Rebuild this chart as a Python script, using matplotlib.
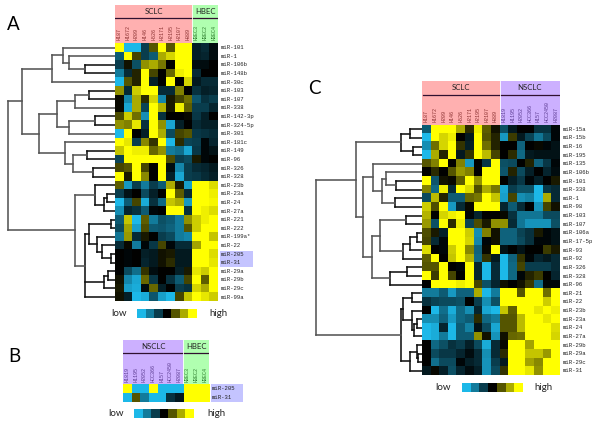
import matplotlib
matplotlib.use('Agg')
import matplotlib.pyplot as plt
from matplotlib.colors import LinearSegmentedColormap
from matplotlib.patches import Rectangle
import numpy as np

# Panel A
rows_a = ['miR-101', 'miR-1', 'miR-106b', 'miR-148b', 'miR-30c', 'miR-103', 'miR-107', 'miR-338',
          'miR-142-3p', 'miR-324-5p', 'miR-301', 'miR-181c', 'miR-149', 'miR-96', 'miR-326', 'miR-328',
          'miR-23b', 'miR-23a', 'miR-24', 'miR-27a', 'miR-221', 'miR-222', 'miR-199a*', 'miR-22',
          'miR-205', 'miR-31', 'miR-29a', 'miR-29b', 'miR-29c', 'miR-99a']
samples_a = ['H187', 'H1672', 'H209', 'H146', 'H526', 'H2171', 'H2195', 'H2107', 'H889', 'HBEC3', 'HBEC2', 'HBEC4']
values_a = [
    [3, -3, -3, -1, 1, 3, 1, 3, 3, -0.5, -0.7, -0.2],
    [-1.5, 3, 0.8, -1, -1.5, 2, 2.5, 3, 3, -0.5, -0.6, -0.2],
    [-1, 0.2, -1.3, 1.7, 2, 1.4, 0, 3, 3, -0.2, -0.2, 0],
    [-2, -0.7, 0.4, 3, 0.8, 0, 1.2, 2.8, 3, -0.7, 0, 0],
    [-3, 1, 0.4, 3, -0.5, 0, 3, 0, 2.5, -0.4, -0.7, -0.7],
    [1.7, -0.7, 2.4, 3, 3, -0.7, -0.7, 1.5, 0, -0.8, -0.5, -0.6],
    [0.1, -2.2, 2, 0.5, 2.5, -2.2, 0.3, 0.8, 1.3, -1.4, -0.8, -1],
    [0.1, -2.7, 2, -1.1, 3, 2.1, 0.3, 2.8, 1.1, -1, -1, -0.6],
    [0.9, 2.4, 1.3, -2.3, 3, -0.8, 0, 0, 0.1, -0.9, -0.5, 0],
    [1.7, 1.5, 2.7, -0.8, 3, 1.7, -2.7, -0.5, 0, -0.7, -0.5, -0.5],
    [-3, 3, 0, -0.5, 3, 2, -1.2, 0.8, 1, -0.9, -0.8, -0.7],
    [3, 2.7, -1, 1.6, 0.6, 3, -3, 0.5, -1.1, -1, -0.1, -0.6],
    [2.3, 3, 2.8, 2.8, 1.2, 1.7, -2, -1.8, -2.7, -0.9, -0.1, -0.3],
    [-1.1, 3, 3, 3, 3, 3, 0.9, -1, -1.2, 0.3, -0.1, 0],
    [0.8, 1, 3, 0.8, 0, 3, -0.2, -2.2, -1, -0.7, -0.6, -0.4],
    [3, 0.3, 3, 1.6, 0, 3, -0.5, -2.7, -1, -0.9, -0.7, -0.5],
    [1.1, -2.5, -1, -2, -1, -1.5, 2, 0.3, -2.6, 3, 3, 2.6],
    [-1, -0.3, 0, -1.2, -0.5, 0, 3, 1.1, -0.7, 3, 3, 2.8],
    [-3, -1.5, 0.8, -2.8, -0.8, -1.7, 2.3, 2, -2.5, 3, 3, 2.9],
    [-2.3, -0.6, -0.8, -1.5, -0.1, 0, 3, 3, -0.8, 3, 2.8, 2.6],
    [-1.5, 2.3, -3, 1.1, -2, -1.3, -1.5, -2, 1.7, 2.4, 2.8, 3],
    [-1.2, 1.9, -2.6, 0.9, -1.5, -1.4, -1.6, -2, 1, 2.4, 3, 3],
    [-1.9, 1.8, -0.7, 0.3, 0, -1, -1.2, -2, -2.2, 3, 3, 2.3],
    [-0.7, 0.1, -2, -0.1, -0.9, 0.8, -0.1, -0.7, -0.7, 1.9, 3, 3],
    [0, -0.1, 0, -0.5, -0.4, 0.2, 0.3, -0.4, -0.4, 3, 3, 2.6],
    [0, -0.1, 0, -0.6, -0.4, 0.2, 0.5, -0.4, -0.4, 3, 3, 2.7],
    [0, -1.2, -1.8, 0.6, -0.2, 0, 0, -0.5, 0.3, 2.7, 2.4, 3],
    [0.2, -2.2, -2.7, 1.2, -0.9, 0, -0.8, -1.5, 0.8, 3, 1.1, 3],
    [0.3, -2.6, -2.8, -0.2, 1.2, -0.5, 0, -1, -0.8, 2.5, 2, 3],
    [0.2, -0.5, -3, -2.8, -1.4, -2.6, -3, 0.8, 2.3, 3, 2.7, 2.4],
]
# dendrograms: (merge distance, child, child, ...), leaves are row names
tree_a = (106.5,
          (93,
           (63, (52, 'miR-101', (46, 'miR-1', (30, 'miR-106b', 'miR-148b'))), 'miR-30c'),
           (76,
            (58,
             (40, (26, 'miR-103', 'miR-107'), 'miR-338'),
             (46, (20, 'miR-142-3p', 'miR-324-5p'), 'miR-301')),
            (50, 'miR-181c', (42, (28, 'miR-149', 'miR-96'), (22, 'miR-326', 'miR-328'))))),
          (40.5,
           (20, 'miR-23b', (11, (8, 'miR-23a', 'miR-24'), 'miR-27a')),
           (30.5,
            (26, (4, 'miR-221', 'miR-222'),
             (18, 'miR-199a*', (13.5, 'miR-22', (4, 'miR-205', 'miR-31')))),
            (11, (7.5, 'miR-29a', 'miR-29b'), 'miR-29c'),
            'miR-99a')))

# Panel B
rows_b = ['miR-205', 'miR-31']
samples_b = ['H1819', 'H1195', 'H2052', 'HCC366', 'H157', 'HCC2450', 'H2087', 'HBEC3', 'HBEC2', 'HBEC4']
values_b = [
    [3, -3, -3, 3, -3, -3, -3, 3, 3, 3],
    [-3, 1, -2, -3, -3, -0.8, -0.4, 3, 3, 3],
]

# Panel C
rows_c = ['miR-15a', 'miR-15b', 'miR-16', 'miR-195', 'miR-135', 'miR-106b', 'miR-101', 'miR-338', 'miR-1', 'miR-98',
          'miR-103', 'miR-107', 'miR-106a', 'miR-17-5p', 'miR-93', 'miR-92', 'miR-326', 'miR-328', 'miR-96',
          'miR-21', 'miR-22', 'miR-23b', 'miR-23a', 'miR-24', 'miR-27a', 'miR-29b', 'miR-29a', 'miR-29c', 'miR-31']
samples_c = ['H187', 'H1672', 'H209', 'H146', 'H526', 'H2171', 'H2195', 'H2107', 'H889',
             'H1819', 'H1195', 'H2052', 'HCC366', 'H157', 'HCC2450', 'H2087']
values_c = [
    [-1.5, 3, 3, 3, 2, 0.5, 2.8, 1.1, 0.2, -1.3, -0.4, 0, 0, -0.8, -0.8, -0.1],
    [-3, 3, 2.5, 2.8, 0, -0.4, 3, 1, 0.4, -2.5, 0.7, -0.4, -1.1, -1.9, -1.2, -0.1],
    [-2.3, 1.3, 2.5, 3, 0.6, -0.5, 3, 1.3, 0.4, 0, 0, -1.6, 0, 0.1, -0.1, -0.3],
    [-3, 2, 0.4, 3, -0.4, 0.6, 3, 2.2, 0.8, 0, 0.5, -1.7, -0.4, -0.3, -0.3, -0.3],
    [1, 1.5, 3, 0, 1.5, -2.5, 0, -0.9, 3, -1.3, -1.2, 0, 0.4, -1.6, -0.9, -0.1],
    [0, 0.5, 0, 1, 1.8, 1.5, 0, 3, 3, -1.4, 0.4, -1.2, -0.5, 0, -0.6, -0.2],
    [3, -1.4, 0.2, 0.1, 1.1, 3, 1.7, 3, 3, 0, -0.5, -0.9, -0.1, -0.5, 0, 0.3],
    [1.5, -1.7, 2.8, -0.7, 3, 2.6, 0.9, 2, 1.4, -2.7, -1, -1.3, -1.3, -3, -0.9, -0.7],
    [-1.2, 2.2, 0.4, -1.5, -1.5, 1.2, 1.4, 3, 2.3, -2.6, 0.8, -2.3, -2.1, -3, 2, -0.7],
    [2.4, 0.9, 3, -2.5, -0.7, 0.1, 3, 3, 3, -0.6, -1.5, -0.7, 0, -2.4, 0.8, 0.2],
    [2.1, 0, 2.5, 2.8, 3, -0.1, -0.6, 0, 0, 0.1, -0.8, -1.9, -1.9, -1.9, -1.2, -1.2],
    [1.8, -1.3, 3, 0.5, 2.8, -1.1, 0.9, 0.3, 1.7, 1.7, -0.7, -1.9, -2.4, -2.4, -2.4, -1.3],
    [0.9, 0.3, -0.5, 3, 3, 2.4, -2.3, 1.5, 0.2, -1.6, -1.6, -1.1, -0.8, 0.3, -0.1, -0.3],
    [0.8, -0.7, -0.1, 3, 3, 2.5, -2.2, -0.1, 0.2, -1.6, -1.6, -1.2, -0.8, -0.1, -0.1, -0.3],
    [2.6, 0, -0.1, 2.4, 3, 1.6, -1.6, 0.1, 3, -0.3, 0, -0.3, 0, 0, 0.7, 0.3],
    [1.1, 3, 0, 2.3, 3, 2.1, -1.7, 0.6, -0.4, -3, -1.6, 0.6, -0.1, -0.6, -0.4, -0.7],
    [1, 1, 3, 0, -0.1, 3, -0.6, -3, -0.7, -3, -1.7, 0.8, -1, -1, -1, -0.7],
    [3, 0.7, 3, 0.8, 0, 3, -0.6, -3, -0.7, -3, -1.7, -0.1, 0.4, 0.7, 0, -0.6],
    [0, 3, 3, 3, 2.8, 3, 0.8, -1.3, -0.6, 0.2, 0, 0.2, 0.7, -1.8, -0.1, -0.1],
    [-2, -2, -1.5, -2.5, -1.6, -1.6, 2, -3, -2, 3, 3, 1, 3, 3, 1.3, 3],
    [-0.8, -1.1, -1.2, -1.2, -1.3, 0, -1, -2.3, -1.3, 3, 3, 3, 3, 3, 2.4, 3],
    [0, -3, -1.8, -2.8, -1.7, -2.3, -0.6, -2.7, -3, 2.3, 1.1, 3, 3, 2.7, 3, 2.8],
    [-2.3, -2.3, -1.6, -2.5, -1.7, -1.5, 0.5, -1.7, -2, 1, 1, 2.2, 3, 3, 2.7, 3],
    [-3, -2.8, -0.6, -3, -1.5, -2.1, -0.3, -1.2, -2.7, 1, 1, 2.2, 3, 3, 3, 2.6],
    [-3, -2.8, -2, -3, -1.5, -1.5, 1.7, 0.2, -2.4, 0.2, 1.2, 1.3, 3, 3, 3, 2.5],
    [0, -1.7, -1.3, -0.8, -1, -0.5, -1.2, -2.8, -0.7, 0.1, 3, 3, 1.9, 3, 3, 3],
    [0, -1.2, -0.9, -0.9, -0.6, -0.2, -0.7, -2.3, -0.7, 0.5, 3, 3, 2.3, 2.3, 1.8, 3],
    [0, -1.8, -1.2, -1.2, -0.1, -0.5, -0.7, -2.4, -1, -0.4, 3, 3, 1.9, 1.6, 3, 3],
    [-0.4, 0.1, -0.5, -1.3, -0.6, -0.2, -0.5, -2.4, -1.2, 0.6, 3, 3, 2.7, 1.7, 3, 3],
]
tree_c = (106.3,
          (66.3,
           (21.6, (12.3, 'miR-15a', 'miR-15b'), (9, 'miR-16', 'miR-195')),
           (59.6,
            (49, 'miR-135',
             (40.6, (36.3, 'miR-106b', (26.6, 'miR-101', 'miR-338')), (27.3, 'miR-1', 'miR-98'))),
            (50.6,
             (42.3, (16.3, 'miR-103', 'miR-107'),
              (19.6, (12.3, (5.6, 'miR-106a', 'miR-17-5p'), 'miR-93'), 'miR-92')),
             (32.3, (15, 'miR-326', 'miR-328'), 'miR-96')))),
          (21,
           (19.6,
            (10.6, 'miR-21', 'miR-22'),
            (10.6, 'miR-23b', (8, (5.6, 'miR-23a', 'miR-24'), 'miR-27a'))),
           (12.3, (5.6, 'miR-29b', (4, 'miR-29a', 'miR-29c')), 'miR-31')))

legend_levels = [-3, -2, -1, 0, 1, 2, 3]

W, H = 600, 424
PINK, GREEN, PURPLE = '#FFB0B0', '#B0FFB0', '#CCB0FF'
INK = {PINK: '#8A3030', GREEN: '#2A7A2A', PURPLE: '#5A3A90'}
MONO = 'Liberation Mono'
SANS = 'Lato'

cmap = LinearSegmentedColormap.from_list('bky', ['#1CB8E8', '#000000', '#FFFF00'])

fig = plt.figure(figsize=(W / 100, H / 100), dpi=100)


def px_axes(x0, y0, x1, y1):
    # axes placed in pixel coordinates, y counted from the top
    ax = fig.add_axes([x0 / W, 1 - y1 / H, (x1 - x0) / W, (y1 - y0) / H])
    ax.axis('off')
    return ax


def draw_heatmap(box, values, rows, label_x):
    ax = px_axes(*box)
    ax.imshow(np.array(values), cmap=cmap, vmin=-3, vmax=3, aspect='auto', interpolation='nearest')
    for i, name in enumerate(rows):
        fig.text(label_x / W, 1 - (box[1] + (i + 0.5) * (box[3] - box[1]) / len(rows)) / H, name,
                 fontsize=4.1, family=MONO, color='#222222', va='center', ha='left', zorder=5)
    return ax


def draw_header(box, samples, groups, label_bottom=3):
    # groups: (name, number of columns, colour)
    ax = px_axes(*box)
    n = len(samples)
    ax.set_xlim(0, n)
    ax.set_ylim(box[3] - box[1], 0)
    height = box[3] - box[1]
    start = 0
    for name, count, color in groups:
        ax.add_patch(Rectangle((start, 0), count, height, color=color, lw=0))
        ax.plot([start + 0.05, start + count - 0.05], [13.5, 13.5], color='#301030', lw=0.9)
        ax.text(start + count / 2, 7, name, fontsize=5.6, family=SANS, color='#222222', ha='center', va='center')
        for j in range(start, start + count):
            ax.text(j + 0.5, height - label_bottom, samples[j], rotation=90, fontsize=3.6, family=MONO,
                    color=INK[color], ha='center', va='bottom')
        if start > 0:
            ax.axvline(start, color='white', lw=0.6)
        start += count


def draw_tree(node, ax, rows):
    # returns the row position of a node, drawing its links on the way
    if isinstance(node, str):
        return rows.index(node) + 0.5, 0
    dist = node[0]
    pos = [draw_tree(child, ax, rows) for child in node[1:]]
    ys = [p[0] for p in pos]
    for y, d in pos:
        ax.plot([dist, d], [y, y], color=tree_color(dist), lw=1.15, solid_capstyle='projecting')
    ax.plot([dist, dist], [min(ys), max(ys)], color=tree_color(dist), lw=1.15, solid_capstyle='projecting')
    return (min(ys) + max(ys)) / 2, dist


def tree_color(dist):
    return '#555555' if dist > 35 else '#111111'


def draw_legend(box, low_x, high_x):
    ax = px_axes(*box)
    ax.imshow([legend_levels], cmap=cmap, vmin=-3, vmax=3, aspect='auto', interpolation='nearest')
    mid = 1 - (box[1] + box[3]) / 2 / H
    fig.text(low_x / W, mid, 'low', fontsize=7, family=SANS, ha='center', va='center', color='#222222')
    fig.text(high_x / W, mid, 'high', fontsize=7, family=SANS, ha='center', va='center', color='#222222')


# Panel A
box_a = (115, 43.4, 218, 301.3)
draw_header((115, 5, 218, 43), samples_a, [('SCLC', 9, PINK), ('HBEC', 3, GREEN)])
fig.patches.append(Rectangle((220 / W, 1 - 266.7 / H), 33 / W, 16 / H, transform=fig.transFigure, color='#C4C4FF', lw=0))
draw_heatmap(box_a, values_a, rows_a, 221)
tree_ax = px_axes(0, box_a[1], box_a[0], box_a[3])
tree_ax.set_xlim(115, 0)
tree_ax.set_ylim(len(rows_a), 0)
draw_tree(tree_a, tree_ax, rows_a)
draw_legend((137, 309.3, 197, 318.3), 119, 218)

# Panel B
draw_header((123, 339.5, 209, 384), samples_b, [('NSCLC', 7, PURPLE), ('HBEC', 3, GREEN)], label_bottom=2.5)
fig.patches.append(Rectangle((211 / W, 1 - 401.7 / H), 32 / W, 17.7 / H, transform=fig.transFigure, color='#C4C4FF', lw=0))
draw_heatmap((123, 384, 209, 401.7), values_b, rows_b, 212)
draw_legend((134, 409, 194, 418), 116, 216)

# Panel C
box_c = (422.3, 125, 560, 375.3)
draw_header((422.3, 81, 560, 125), samples_c, [('SCLC', 9, PINK), ('NSCLC', 7, PURPLE)])
draw_heatmap(box_c, values_c, rows_c, 562.7)
tree_ax = px_axes(300, box_c[1], box_c[0], box_c[3])
tree_ax.set_xlim(122.3, 0)
tree_ax.set_ylim(len(rows_c), 0)
draw_tree(tree_c, tree_ax, rows_c)
draw_legend((461.7, 382.7, 521.7, 391.7), 443, 543)

# Panel letters
for letter, x, y in [('A', 13, 24), ('B', 14, 356), ('C', 314, 89)]:
    fig.text(x / W, 1 - y / H, letter, fontsize=13.5, family=SANS, color='black', ha='center', va='center')

fig.savefig('out.png', dpi=100)
